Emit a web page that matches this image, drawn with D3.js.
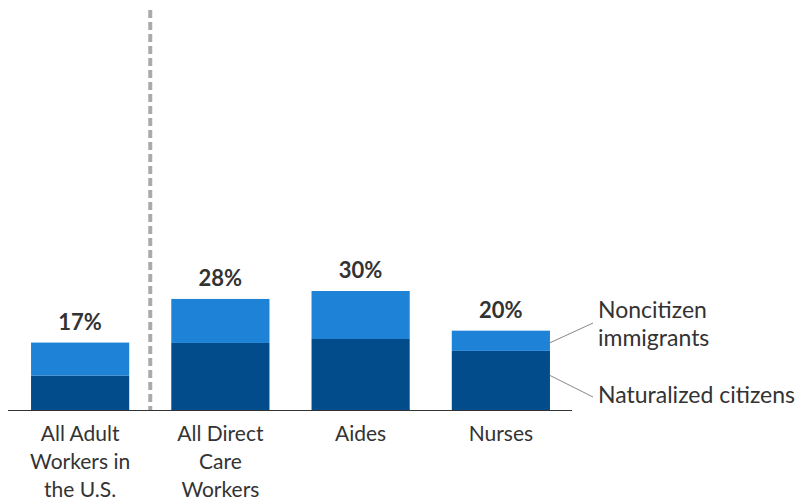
<!DOCTYPE html>
<html>
<head>
<meta charset="utf-8">
<script src="https://cdn.jsdelivr.net/npm/d3@7"></script>
<style>
  body { margin: 0; background: #fff; }
  svg { display: block; font-family: Lato, "Open Sans", sans-serif; }
</style>
</head>
<body>
<script>
// values (percent of workers)
var categories = ["All Adult|Workers in|the U.S.", "All Direct|Care|Workers", "Aides", "Nurses"],
    naturalized = [8.7, 16.9, 17.9, 14.9],
    noncitizen = [8.3, 11.1, 12.1, 5.1],
    totalLabels = ["17%", "28%", "30%", "20%"],
    seriesNames = ["Naturalized citizens", "Noncitizen immigrants"];

var width = 797,
    height = 500,
    baseY = 410,
    colors = ["#034c8c", "#1e83d7"];

var svg = d3.select("body").append("svg")
  .attr("width", width)
  .attr("height", height);

var x = d3.scaleBand()
  .domain(categories)
  .range([10, 571])
  .paddingInner(0.3)
  .paddingOuter(0.15);

var y = d3.scaleLinear()
  .domain([0, 30])
  .range([baseY, 291]);

var rows = categories.map(function(c, i) {
  return {cat: c, naturalized: naturalized[i], noncitizen: noncitizen[i], label: totalLabels[i]};
});

var stack = d3.stack().keys(["naturalized", "noncitizen"]);
var layers = stack(rows);

svg.selectAll("g.layer")
  .data(layers)
  .enter().append("g")
  .attr("class", "layer")
  .attr("fill", function(d, i) { return colors[i]; })
  .selectAll("rect")
  .data(function(d) { return d; })
  .enter().append("rect")
  .attr("x", function(d) { return x(d.data.cat); })
  .attr("width", x.bandwidth())
  .attr("y", function(d) { return y(d[1]); })
  .attr("height", function(d) { return y(d[0]) - y(d[1]); });

// total labels
svg.selectAll("text.total")
  .data(rows)
  .enter().append("text")
  .attr("class", "total")
  .attr("x", function(d) { return x(d.cat) + x.bandwidth() / 2; })
  .attr("y", function(d) { return y(d.naturalized + d.noncitizen) - 13; })
  .attr("text-anchor", "middle")
  .attr("font-size", 22)
  .attr("font-weight", "bold")
  .attr("fill", "#333")
  .text(function(d) { return d.label; });

// dashed divider
var divX = x(categories[1]) - x.step() * x.paddingInner() / 2;
svg.append("line")
  .attr("x1", divX).attr("x2", divX)
  .attr("y1", 10).attr("y2", baseY)
  .attr("stroke", "#aaa")
  .attr("stroke-width", 4)
  .attr("stroke-dasharray", "8,4");

// baseline
svg.append("line")
  .attr("x1", 8).attr("x2", 572)
  .attr("y1", baseY + 0.5).attr("y2", baseY + 0.5)
  .attr("stroke", "#333")
  .attr("stroke-width", 1);

// category labels
var cl = svg.selectAll("text.cat")
  .data(categories)
  .enter().append("text")
  .attr("class", "cat")
  .attr("text-anchor", "middle")
  .attr("font-size", 21)
  .attr("fill", "#333");

cl.selectAll("tspan")
  .data(function(d) { return d.split("|").map(function(s) { return {s: s, c: d}; }); })
  .enter().append("tspan")
  .attr("x", function(d) { return x(d.c) + x.bandwidth() / 2; })
  .attr("y", function(d, i) { return 441 + i * 28; })
  .text(function(d) { return d.s; });

// legend with leader lines, attached to last bar
var last = rows[rows.length - 1],
    lx = x(last.cat) + x.bandwidth();

svg.append("line")
  .attr("x1", lx).attr("y1", y(last.naturalized + last.noncitizen * 0.5) + 2)
  .attr("x2", 593).attr("y2", 323)
  .attr("stroke", "#888").attr("stroke-width", 1);

svg.append("line")
  .attr("x1", lx).attr("y1", y(last.naturalized * 0.5) - 5)
  .attr("x2", 593).attr("y2", 397)
  .attr("stroke", "#888").attr("stroke-width", 1);

var leg = svg.append("g")
  .attr("font-size", 23)
  .attr("fill", "#333");

leg.append("text").attr("x", 598).attr("y", 318).text("Noncitizen");
leg.append("text").attr("x", 598).attr("y", 346).text("immigrants");
leg.append("text").attr("x", 598).attr("y", 403).text(seriesNames[0]);
</script>
</body>
</html>
